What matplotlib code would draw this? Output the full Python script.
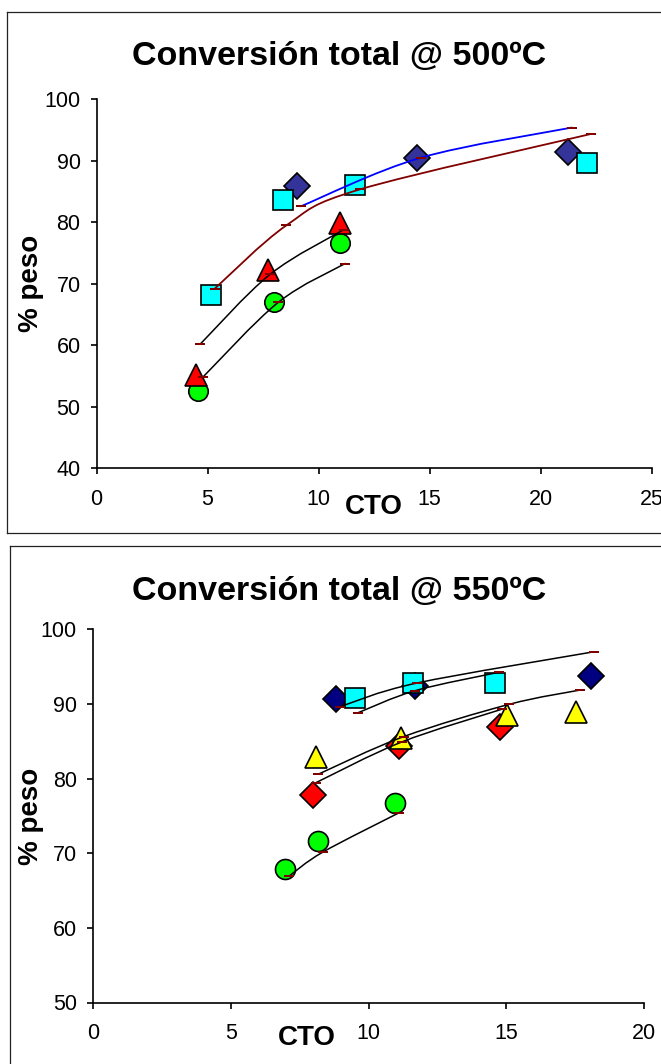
import numpy as np
import matplotlib
matplotlib.use("Agg")
import matplotlib.pyplot as plt
from matplotlib.path import Path
from matplotlib.patches import PathPatch
from matplotlib.lines import Line2D

plt.rcParams['font.family'] = ['Liberation Sans', 'DejaVu Sans']

# ---------------- 500 ºC data ----------------
t500_diam_x = [9.02, 14.45, 21.25]
t500_diam_y = [85.9, 90.4, 91.4]
t500_sq_x = [5.14, 8.39, 11.65, 22.07]
t500_sq_y = [68.1, 83.7, 86.0, 89.6]
t500_tri_x = [4.50, 7.70, 10.95]
t500_tri_y = [55.1, 72.2, 79.9]
t500_circ_x = [4.56, 8.00, 10.98]
t500_circ_y = [52.5, 67.0, 76.7]

# fitted curves (500 ºC)
f500_diam_x = [9.20, 14.60, 21.40]
f500_diam_y = [82.6, 90.5, 95.4]
f500_sq_x = [5.32, 8.55, 11.86, 22.25]
f500_sq_y = [69.2, 79.5, 85.35, 94.35]
f500_tri_x = [4.66, 7.82, 11.13]
f500_tri_y = [60.15, 71.55, 78.8]
f500_circ_x = [4.81, 8.19, 11.20]
f500_circ_y = [54.9, 67.0, 73.3]

# ---------------- 550 ºC data ----------------
t550_diam_x = [8.82, 11.69, 18.08]
t550_diam_y = [90.7, 92.4, 93.8]
t550_sq_x = [9.51, 11.60, 14.57]
t550_sq_y = [90.85, 92.8, 92.8]
t550_rdiam_x = [8.00, 11.09, 14.78]
t550_rdiam_y = [77.8, 84.4, 86.9]
t550_tri_x = [8.09, 11.18, 15.02, 17.53]
t550_tri_y = [82.95, 85.5, 88.5, 88.9]
t550_circ_x = [6.95, 8.18, 10.97]
t550_circ_y = [67.9, 71.6, 76.7]

# fitted curves (550 ºC)
f550_diam_x = [8.97, 11.75, 18.19]
f550_diam_y = [89.64, 92.8, 97.0]
f550_sq_x = [9.63, 11.69, 14.72]
f550_sq_y = [88.84, 91.78, 94.24]
f550_tri_x = [8.18, 11.27, 15.11, 17.68]
f550_tri_y = [80.59, 85.62, 89.96, 91.87]
f550_rdiam_x = [8.10, 11.20, 14.84]
f550_rdiam_y = [79.47, 84.9, 89.3]
f550_circ_x = [7.13, 8.34, 11.12]
f550_circ_y = [66.97, 70.15, 75.45]

DASH = Path([(-1, -0.3), (1, -0.3), (1, 0.3), (-1, 0.3), (-1, -0.3)],
            [Path.MOVETO, Path.LINETO, Path.LINETO, Path.LINETO, Path.CLOSEPOLY])
FIT_MARK = '#800000'

W, H = 661, 1064
fig = plt.figure(figsize=(W / 100, H / 100), dpi=100)


def rect(left, top, right, bottom):
    return [left / W, 1 - bottom / H, (right - left) / W, (bottom - top) / H]


def smooth_curve(ax, xs, ys, color, lw):
    pts = np.column_stack([xs, ys]).astype(float)
    n = len(pts)
    verts = [pts[0]]
    codes = [Path.MOVETO]
    for i in range(n - 1):
        p0 = pts[i - 1] if i > 0 else pts[i]
        p1, p2 = pts[i], pts[i + 1]
        p3 = pts[i + 2] if i + 2 < n else pts[i + 1]
        verts += [p1 + (p2 - p0) / 6, p2 - (p3 - p1) / 6, p2]
        codes += [Path.CURVE4] * 3
    ax.add_patch(PathPatch(Path(verts, codes), fill=False, edgecolor=color,
                           lw=lw, zorder=5, capstyle='round'))
    ax.plot(xs, ys, linestyle='none', marker=DASH, markersize=7,
            color=FIT_MARK, markeredgewidth=0, zorder=6)


def style_axes(ax, xmax, ymin):
    for s in ('top', 'right'):
        ax.spines[s].set_visible(False)
    for s in ('left', 'bottom'):
        ax.spines[s].set_linewidth(1.2)
    ax.set_xlim(0, xmax)
    ax.set_ylim(ymin, 100)
    ax.set_xticks(np.arange(0, xmax + 1, 5))
    ax.set_yticks(np.arange(ymin, 101, 10))
    ax.tick_params(direction='out', length=4.5, width=1.2, labelsize=15.5,
                   colors='black')
    ax.tick_params(axis='x', pad=10.5)
    ax.tick_params(axis='y', pad=7)
    for lbl in ax.get_xticklabels():
        lbl.set_clip_on(False)


def scatter(ax, xs, ys, marker, face, ms, z):
    ax.plot(xs, ys, linestyle='none', marker=marker, markersize=ms,
            markerfacecolor=face, markeredgecolor='black',
            markeredgewidth=1.2, zorder=z, clip_on=False)


# ---------- chart frames ----------
lk = dict(color='#222222', lw=0.9, transform=fig.transFigure)
fig.add_artist(Line2D([7.3 / W, 1.01], [1 - 11.7 / H] * 2, **lk))
fig.add_artist(Line2D([7.3 / W] * 2, [1 - 11.7 / H, 1 - 533 / H], **lk))
fig.add_artist(Line2D([7.3 / W, 1.01], [1 - 533 / H] * 2, **lk))
fig.add_artist(Line2D([10 / W, 1.01], [1 - 546 / H] * 2, **lk))
fig.add_artist(Line2D([10 / W] * 2, [1 - 546 / H, -0.01], **lk))

# ---------- 500 ºC ----------
ax1 = fig.add_axes(rect(96.5, 99.3, 651.7, 468.3))
style_axes(ax1, 25, 40)
scatter(ax1, t500_diam_x, t500_diam_y, 'D', '#333399', 13.5, 3)
scatter(ax1, t500_sq_x, t500_sq_y, 's', '#00FFFF', 14, 3.1)
scatter(ax1, t500_circ_x, t500_circ_y, 'o', '#00FF00', 14, 3.2)
scatter(ax1, t500_tri_x, t500_tri_y, '^', '#FF0000', 15.5, 3.3)
smooth_curve(ax1, f500_diam_x, f500_diam_y, '#0000FF', 1.3)
smooth_curve(ax1, f500_sq_x, f500_sq_y, '#800000', 1.3)
smooth_curve(ax1, f500_tri_x, f500_tri_y, 'black', 1.1)
smooth_curve(ax1, f500_circ_x, f500_circ_y, 'black', 1.1)

fig.text(339.5 / W, 1 - 65 / H, 'Conversión total @ 500ºC', ha='center',
         va='baseline', fontsize=24.5, fontweight='bold')
fig.text(31 / W, 1 - 283.5 / H, '% peso', rotation=90, ha='center',
         va='center', fontsize=20, fontweight='bold')
fig.text(374 / W, 1 - 507 / H, 'CTO', ha='center', va='center',
         fontsize=20, fontweight='bold')

# ---------- 550 ºC ----------
ax2 = fig.add_axes(rect(92.9, 629.3, 644.3, 1002.5))
style_axes(ax2, 20, 50)
scatter(ax2, t550_diam_x, t550_diam_y, 'D', '#000080', 13.2, 3)
scatter(ax2, t550_sq_x, t550_sq_y, 's', '#00FFFF', 14, 3.1)
scatter(ax2, t550_rdiam_x, t550_rdiam_y, 'D', '#FF0000', 13.2, 3.2)
scatter(ax2, t550_tri_x, t550_tri_y, '^', '#FFFF00', 15.5, 3.3)
scatter(ax2, t550_circ_x, t550_circ_y, 'o', '#00FF00', 14.4, 3.4)
smooth_curve(ax2, f550_diam_x, f550_diam_y, 'black', 1.1)
smooth_curve(ax2, f550_sq_x, f550_sq_y, 'black', 1.1)
smooth_curve(ax2, f550_tri_x, f550_tri_y, 'black', 1.1)
smooth_curve(ax2, f550_rdiam_x, f550_rdiam_y, 'black', 1.1)
smooth_curve(ax2, f550_circ_x, f550_circ_y, 'black', 1.1)

fig.text(339.5 / W, 1 - 600 / H, 'Conversión total @ 550ºC', ha='center',
         va='baseline', fontsize=24.5, fontweight='bold')
fig.text(31 / W, 1 - 816 / H, '% peso', rotation=90, ha='center',
         va='center', fontsize=20, fontweight='bold')
fig.text(307 / W, 1 - 1038 / H, 'CTO', ha='center', va='center',
         fontsize=20, fontweight='bold')

fig.savefig('out.png', dpi=100)
